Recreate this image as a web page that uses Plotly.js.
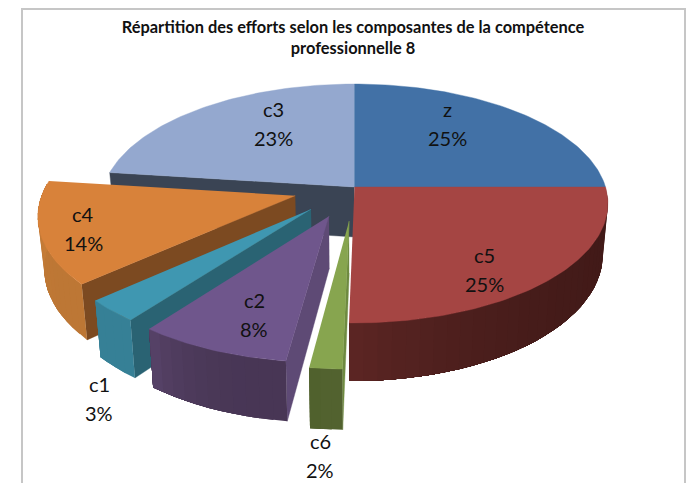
<!DOCTYPE html>
<html><head><meta charset="utf-8">
<script src="https://cdn.plot.ly/plotly-3.0.1.min.js"></script>
<style>html,body{margin:0;padding:0;background:#fff;overflow:hidden}#chart{width:687px;height:483px}</style>
</head><body><div id="chart"></div>
<script>
// Data, clockwise from 12 o'clock
const categories = ["z", "c5", "c6", "c2", "c1", "c4", "c3"];
const values     = [25, 25.3, 1.75, 8.25, 3, 13.7, 23];
const explode    = [0, 0, 0.28, 0.26, 0.25, 0.245, 0];

// Styles
const topColors  = ["#4271a6", "#a54543", "#87a54f", "#6f568c", "#3f97b1", "#d8823a", "#94a8cf"];
const rimFrom    = ["#2f5377", "#421a18", "#52622f", "#483655", "#368096", "#bd7735", "#5e6f8e"];
const rimTo      = ["#2f5377", "#5c2624", "#4f602c", "#574368", "#368096", "#cc8039", "#5e6f8e"];
const cutColors  = [null, null, "#6e8a40", "#5e4a75", "#2a6373", "#7c4a21", "#3a4454"];
const drawOrder  = ["c3", "z", "c5", "c4", "c1", "c2", "c6"];
const labelX     = {z: 447, c5: 484, c6: 320, c2: 254, c1: 99, c4: 83, c3: 273};
const labelY     = {z: 109, c5: 255, c6: 441, c2: 300, c1: 384, c4: 214, c3: 109};

// Perspective view of the disc
const view = {cx: 354.5, cy: 187, R: 251, a: 117.2, b: 0.138, h: 50, k: 0.02, pitch: 28.5};

const total = values.reduce((p, v) => p + v, 0);
function project(X, Y, low) {
  const s = 1 / (1 + view.b * Y);
  let px = view.R * X * s, py = -view.a * Y * s;
  if (low) { px *= 1 - view.k; py += view.h * s; }
  return [view.cx + px, view.cy + py];
}
function hex(c) { return [1, 3, 5].map(i => parseInt(c.substr(i, 2), 16)); }
function mix(c1, c2, t) {
  const a = hex(c1), b = hex(c2);
  return "rgb(" + a.map((v, i) => Math.round(v + (b[i] - v) * t)).join(",") + ")";
}
function poly(pts, color, lineWidth) {
  return {type: "scatter", mode: "lines", x: pts.map(p => p[0]), y: pts.map(p => p[1]),
    fill: "toself", fillcolor: color, line: {color: color, width: lineWidth},
    hoverinfo: "skip", showlegend: false};
}

const slices = {};
let cum = 0;
categories.forEach((name, i) => {
  const start = cum / total * 2 * Math.PI;
  cum += values[i];
  const end = cum / total * 2 * Math.PI, mid = (start + end) / 2;
  slices[name] = {i, start, end, ox: explode[i] * Math.sin(mid), oy: explode[i] * Math.cos(mid)};
});

const traces = [];
drawOrder.forEach(name => {
  const S = slices[name], i = S.i;
  const at = (ang, low) => project(S.ox + Math.sin(ang), S.oy + Math.cos(ang), low);
  const apex = low => project(S.ox, S.oy, low);
  // cut face on the slice's leading radial edge
  if (cutColors[i]) {
    traces.push(poly([apex(false), at(S.start, false), at(S.start, true), apex(true)], cutColors[i], 0.4));
  }
  // outer rim facing the viewer: each shade is painted over the previous one out to the rim's end
  const a0 = Math.max(S.start, Math.PI / 2), a1 = Math.min(S.end, 3 * Math.PI / 2 + 0.1);
  if (a1 > a0) {
    const strips = Math.max(2, Math.ceil((a1 - a0) / 0.05));
    for (let n = 0; n < strips; n++) {
      const p = a0 + (a1 - a0) * n / strips;
      const u = (n + 0.5) / strips;
      const upper = [], lower = [];
      for (let m = n; m <= strips; m++) {
        const q = a0 + (a1 - a0) * m / strips;
        upper.push(at(q, false));
        lower.unshift(at(q, true));
      }
      traces.push(poly(upper.concat(lower), mix(rimFrom[i], rimTo[i], u * u * u), 0));
    }
  }
  // top face
  const pts = [apex(false)], steps = Math.ceil((S.end - S.start) / 0.02);
  for (let n = 0; n <= steps; n++) pts.push(at(S.start + (S.end - S.start) * n / steps, false));
  traces.push(poly(pts, topColors[i], 0.4));
});

const annotations = [];
categories.forEach((name, i) => {
  const base = {xref: "x", yref: "y", x: labelX[name], showarrow: false, xanchor: "center", yanchor: "middle",
    font: {family: "Lato, sans-serif", size: 20, color: "#111"}};
  annotations.push(Object.assign({}, base, {y: labelY[name], text: name}));
  annotations.push(Object.assign({}, base, {y: labelY[name] + view.pitch, text: Math.round(values[i]) + "%"}));
});

const layout = {
  width: 687, height: 483, margin: {l: 0, r: 0, t: 0, b: 0},
  paper_bgcolor: "#fff", plot_bgcolor: "#fff", showlegend: false,
  title: {
    text: '<b>Répartition des efforts selon les composantes de la compétence<br>professionnelle 8</b>',
    font: {family: "Lato, sans-serif", size: 16.4, color: "#111"},
    x: 353 / 687, xanchor: "center", y: 1 - 33 / 483, yanchor: "middle"
  },
  xaxis: {range: [0, 687], visible: false, fixedrange: true},
  yaxis: {range: [483, 0], visible: false, fixedrange: true},
  shapes: [{type: "rect", xref: "paper", yref: "paper", x0: 22 / 687, x1: 685 / 687, y0: -0.1, y1: 1 - 9 / 483,
    line: {color: "#c6c6c6", width: 2}, fillcolor: "rgba(0,0,0,0)", layer: "below"}],
  annotations: annotations
};
Plotly.newPlot("chart", traces, layout, {displayModeBar: false, staticPlot: true});
</script></body></html>
